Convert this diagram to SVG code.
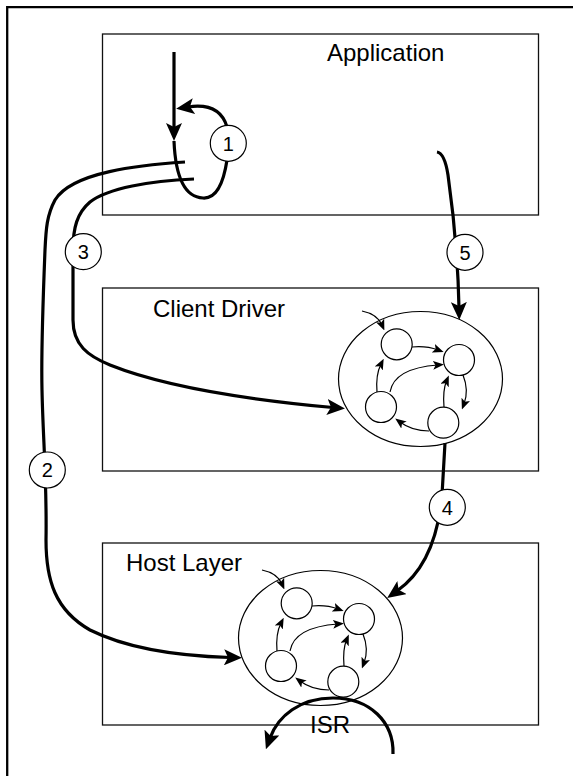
<svg xmlns="http://www.w3.org/2000/svg" xmlns:xlink="http://www.w3.org/1999/xlink" width="573" height="776" viewBox="0 0 573 776">
  <style>
    .frame { fill: none; stroke: #000; stroke-width: 2.3; }
    .layer { fill: #fff; stroke: #111; stroke-width: 1.3; }
    .label { font-family: "Liberation Sans", Arial, sans-serif; font-size: 24px; fill: #000; }
    .flow { fill: none; stroke: #000; stroke-width: 3.2; stroke-linecap: butt; }
    .thin { fill: none; stroke: #000; stroke-width: 1.2; }
    .state { fill: #fff; stroke: #000; stroke-width: 1.2; }
    .step circle { fill: #fff; stroke: #000; stroke-width: 1.2; }
    .step text { font-family: "Liberation Sans", Arial, sans-serif; font-size: 20px; text-anchor: middle; fill: #000; }
  </style>
  <defs>
    <marker id="bigArrow" markerUnits="userSpaceOnUse" markerWidth="18" markerHeight="16" viewBox="0 0 18 16" refX="6" refY="8" orient="auto">
      <path d="M0,0 L18,8 L0,16 L4,8 z" fill="#000"/>
    </marker>
    <marker id="smallArrow" markerUnits="userSpaceOnUse" markerWidth="11" markerHeight="9" viewBox="0 0 11 9" refX="5" refY="4.5" orient="auto">
      <path d="M0,0 L11,4.5 L0,9 L2.5,4.5 z" fill="#000"/>
    </marker>
    <!-- state machine drawn inside a layer -->
    <g id="fsm">
      <ellipse cx="420.5" cy="379" rx="82" ry="67.5" fill="#fff" stroke="#000" stroke-width="1.2"/>
      <path class="thin" d="M362,311 C372,313 379,318 382,325" marker-end="url(#smallArrow)"/>
      <path class="thin" d="M412,347 C422,346 430,347 438,350" marker-end="url(#smallArrow)"/>
      <path class="thin" d="M390,392 C393,375 410,367 438,365" marker-end="url(#smallArrow)"/>
      <path class="thin" d="M377,392 C376,380 378,370 381,364" marker-end="url(#smallArrow)"/>
      <path class="thin" d="M463,375 C467,385 467,396 464,404" marker-end="url(#smallArrow)"/>
      <path class="thin" d="M444,407 C443,395 444,387 446.5,381" marker-end="url(#smallArrow)"/>
      <path class="thin" d="M429,431 C418,431 408,428 400,422" marker-end="url(#smallArrow)"/>
      <circle class="state" cx="396.7" cy="344.3" r="15.5"/>
      <circle class="state" cx="459" cy="360" r="15.5"/>
      <circle class="state" cx="381" cy="407" r="15.5"/>
      <circle class="state" cx="443.3" cy="422.7" r="15.5"/>
    </g>
  </defs>

  <rect width="573" height="776" fill="#fff"/>
  <path class="frame" d="M7.2,790 V7.2 H590"/>

  <g id="application">
    <rect class="layer" x="102.5" y="34" width="436" height="181"/>
    <text class="label" x="327" y="61">Application</text>
  </g>

  <g id="client-driver">
    <rect class="layer" x="102.5" y="288" width="436" height="183"/>
    <text class="label" x="153" y="317">Client Driver</text>
    <use xlink:href="#fsm" href="#fsm"/>
  </g>

  <g id="host-layer">
    <rect class="layer" x="102.5" y="543" width="436" height="182"/>
    <text class="label" x="126" y="571">Host Layer</text>
    <use xlink:href="#fsm" href="#fsm" transform="translate(-100,259)"/>
  </g>

  <g id="connectors">
    <!-- call entering the application and its local loop -->
    <path class="flow" d="M174,52 L174,129" marker-end="url(#bigArrow)"/>
    <path class="flow" d="M174,141 C175,165 180,197 203,198 C218,199 224,180 227,160"/>
    <path class="flow" d="M227,127 C222,110 208,104 188,107" marker-end="url(#bigArrow)"/>
    <!-- path 2: application to host layer -->
    <path class="flow" d="M185,162 C140,165 72,172 55,200 C47,215 46,228 45,250 C43,300 41,350 42,390 C43,440 47,480 46,540 C46,580 55,610 90,630 C130,650 180,656 230,657.5" marker-end="url(#bigArrow)"/>
    <!-- path 3: application to client driver -->
    <path class="flow" d="M194,179 C150,181 108,188 90,202 C77,213 73,228 73,250 L73,320 C73,345 88,356 110,365 C160,385 240,399 333,407.5" marker-end="url(#bigArrow)"/>
    <!-- path 5: application to client driver -->
    <path class="flow" d="M437,152 C443,153 446,162 448,175 C453,210 458,260 459,308" marker-end="url(#bigArrow)"/>
    <!-- path 4: client driver to host layer -->
    <path class="flow" d="M445,443 L442,495 C438,540 424,572 397,591" marker-end="url(#bigArrow)"/>
    <!-- interrupt service routine -->
    <path class="flow" d="M393,754 C394,722 370,698 333,698 C300,698 278,716 270,738" marker-end="url(#bigArrow)"/>
  </g>

  <g id="isr-label">
    <text class="label" x="310" y="733">ISR</text>
  </g>

  <g id="step-1" class="step"><circle cx="228.3" cy="143.3" r="18"/><text x="228.3" y="150.5">1</text></g>
  <g id="step-2" class="step"><circle cx="47.3" cy="470" r="18"/><text x="47.3" y="477.2">2</text></g>
  <g id="step-3" class="step"><circle cx="83.3" cy="251.7" r="18"/><text x="83.3" y="258.9">3</text></g>
  <g id="step-4" class="step"><circle cx="447.3" cy="507.3" r="18"/><text x="447.3" y="514.5">4</text></g>
  <g id="step-5" class="step"><circle cx="465" cy="252.3" r="18"/><text x="465" y="259.5">5</text></g>
</svg>
